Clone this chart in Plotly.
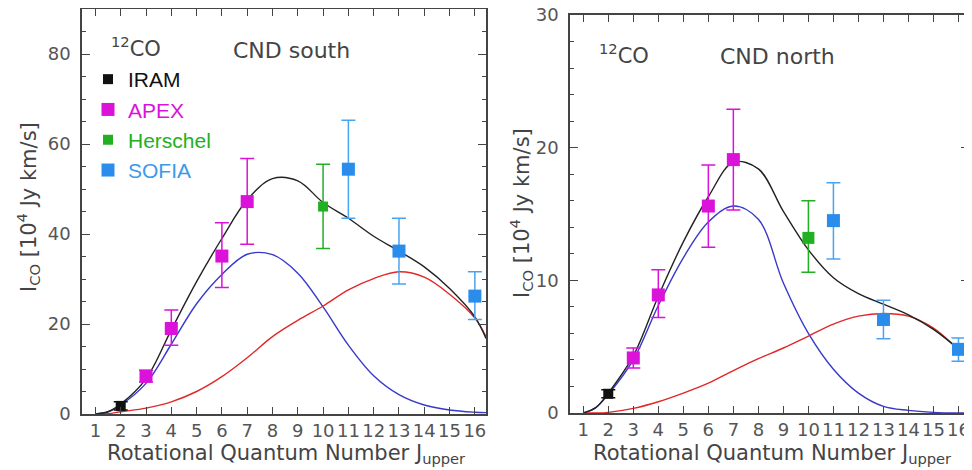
import plotly.graph_objects as go

# ---------------- data ----------------
# model curves
J_model = [1, 1.5, 2, 3, 4, 5, 6, 7, 8, 9, 10, 11, 12, 13, 14, 15, 16, 16.44]

south_blue = [0, 0.5, 2.0, 6.8, 15.5, 24.5, 31.0, 35.5, 35.4, 31.3, 23.8, 15.3, 8.5, 4.3, 2.0, 0.9, 0.4, 0.3]
south_red = [0, 0.05, 0.5, 1.3, 2.7, 5.0, 8.3, 12.5, 17.2, 20.8, 24.0, 27.6, 30.1, 31.6, 30.4, 26.6, 21.3, 17.2]
south_black = [0, 0.5, 2.2, 7.8, 18.7, 29.4, 39.0, 47.6, 52.3, 51.8, 47.0, 43.5, 39.5, 36.2, 32.7, 27.9, 21.6, 16.8]

north_blue = [0, 0.4, 1.4, 4.0, 8.1, 11.7, 14.4, 15.6, 14.6, 9.8, 6.0, 3.3, 1.5, 0.5, 0.2, 0.05, 0.0, 0.0]
north_red = [0, 0.0, 0.05, 0.35, 0.85, 1.5, 2.25, 3.2, 4.1, 4.9, 5.8, 6.7, 7.3, 7.5, 7.3, 6.4, 4.8, 4.1]
north_black = [0, 0.4, 1.5, 4.3, 8.8, 12.9, 16.3, 18.9, 18.4, 15.2, 12.3, 10.2, 9.0, 8.2, 7.4, 6.3, 4.8, 4.0]

# observations: CND south
s_iram_J = [2];  s_iram = [1.8];  s_iram_up = [0.9];  s_iram_dn = [0.9]
s_apex_J = [3, 4, 6, 7];  s_apex = [8.4, 19.0, 35.1, 47.2]
s_apex_up = [1.3, 4.1, 7.4, 9.6];  s_apex_dn = [1.3, 3.7, 7.0, 9.5]
s_hers_J = [10];  s_hers = [46.1];  s_hers_up = [9.4];  s_hers_dn = [9.3]
s_sofia_J = [11, 13, 16];  s_sofia = [54.4, 36.2, 26.2]
s_sofia_up = [10.9, 7.3, 5.4];  s_sofia_dn = [10.9, 7.3, 5.2]

# observations: CND north
n_iram_J = [2];  n_iram = [1.45];  n_iram_up = [0.3];  n_iram_dn = [0.3]
n_apex_J = [3, 4, 6, 7];  n_apex = [4.15, 8.9, 15.6, 19.1]
n_apex_up = [0.75, 1.9, 3.1, 3.8];  n_apex_dn = [0.75, 1.7, 3.1, 3.8]
n_hers_J = [10];  n_hers = [13.2];  n_hers_up = [2.8];  n_hers_dn = [2.6]
n_sofia_J = [11, 13, 16];  n_sofia = [14.5, 7.05, 4.8]
n_sofia_up = [2.85, 1.45, 0.85];  n_sofia_dn = [2.9, 1.45, 0.9]

x_ticks = list(range(1, 17))

# ---------------- style ----------------
C_IRAM = "#111111"
C_APEX = "#DA12DA"
C_HERS = "#22B022"
C_SOFIA = "#2A8CEB"
C_SOFIA_ERR = "#4AA3F0"
C_BLUE = "#3838CC"
C_RED = "#E02828"
C_BLACK = "#222222"
AXC = "#444444"
TXT = "#444444"
FONT = "DejaVu Sans"

# page has an 8px body margin: figure fills the rest of the 972x470 window
OFF = 8
W, H = 972 - OFF, 470 - OFF


def fx(X):
    return (X - OFF) / W


def fy(Y):
    return 1 - (Y - OFF) / H


fig = go.Figure()


def add_panel(xa, ya, blue, red, black, obs, legend):
    for yv, col in ((blue, C_BLUE), (red, C_RED), (black, C_BLACK)):
        fig.add_trace(go.Scatter(x=J_model, y=yv, mode="lines", xaxis=xa, yaxis=ya,
                                 line=dict(color=col, width=1.4, shape="spline", smoothing=1.0),
                                 showlegend=False, hoverinfo="skip"))
    for name, label, J, v, up, dn, col, ecol, size in obs:
        fig.add_trace(go.Scatter(
            x=J, y=v, mode="markers", xaxis=xa, yaxis=ya,
            name=label, showlegend=legend,
            marker=dict(symbol="square", size=size, color=col, line=dict(width=0)),
            error_y=dict(type="data", array=up, arrayminus=dn, symmetric=False,
                         color=ecol, thickness=1.5, width=7),
        ))


obs_s = [
    ("IRAM", "IRAM", s_iram_J, s_iram, s_iram_up, s_iram_dn, C_IRAM, C_IRAM, 10),
    ("APEX", f"<span style='color:{C_APEX}'>APEX</span>", s_apex_J, s_apex, s_apex_up, s_apex_dn, C_APEX, C_APEX, 13),
    ("Herschel", f"<span style='color:{C_HERS}'>Herschel</span>", s_hers_J, s_hers, s_hers_up, s_hers_dn, C_HERS, C_HERS, 10),
    ("SOFIA", f"<span style='color:#3A9AEA'>SOFIA</span>", s_sofia_J, s_sofia, s_sofia_up, s_sofia_dn, C_SOFIA, C_SOFIA_ERR, 13),
]
obs_n = [
    ("IRAM", "IRAM", n_iram_J, n_iram, n_iram_up, n_iram_dn, C_IRAM, C_IRAM, 10),
    ("APEX", "APEX", n_apex_J, n_apex, n_apex_up, n_apex_dn, C_APEX, C_APEX, 13),
    ("Herschel", "Herschel", n_hers_J, n_hers, n_hers_up, n_hers_dn, C_HERS, C_HERS, 12),
    ("SOFIA", "SOFIA", n_sofia_J, n_sofia, n_sofia_up, n_sofia_dn, C_SOFIA, C_SOFIA_ERR, 13),
]

add_panel("x", "y", south_blue, south_red, south_black, obs_s, True)
add_panel("x2", "y2", north_blue, north_red, north_black, obs_n, False)

xcommon = dict(tickvals=x_ticks, ticktext=[str(t) for t in x_ticks], automargin=False,
               showline=True, linecolor=AXC, linewidth=1.5, mirror="ticks",
               ticks="inside", ticklen=7, tickwidth=1.3, tickcolor=AXC,
               showgrid=False, zeroline=False, ticklabeloverflow="allow",
               tickfont=dict(family=FONT, size=18, color="#555555"))
ycommon = dict(showline=True, linecolor=AXC, linewidth=1.5, mirror="ticks", automargin=False,
               ticks="inside", ticklen=8, tickwidth=1.3, tickcolor=AXC,
               showgrid=False, zeroline=False, ticklabelstandoff=6, ticklabeloverflow="allow",
               tickfont=dict(family=FONT, size=18, color="#555555"))

fig.update_layout(
    template="none",
    width=W, height=H,
    margin=dict(l=0, r=0, t=0, b=0, autoexpand=False),
    paper_bgcolor="white", plot_bgcolor="white",
    xaxis=dict(domain=[fx(82), fx(486)], anchor="y", range=[0.47, 16.44], **xcommon),
    yaxis=dict(domain=[fy(414), fy(9)], anchor="x", range=[0, 90], dtick=20,
               minor=dict(dtick=5, ticks="inside", ticklen=4, tickcolor=AXC, tickwidth=1.2), **ycommon),
    xaxis2=dict(domain=[fx(570), fx(969)], anchor="y2", range=[0.47, 16.42], **xcommon),
    yaxis2=dict(domain=[fy(413), fy(15)], anchor="x2", range=[0, 30], dtick=10,
                minor=dict(dtick=2, ticks="inside", ticklen=4, tickcolor=AXC, tickwidth=1.2), **ycommon),
    showlegend=True,
    legend=dict(x=fx(88), y=fy(59), xanchor="left", yanchor="top",
                bgcolor="rgba(0,0,0,0)", borderwidth=0,
                font=dict(family="Liberation Sans, Arial", size=21, color="#111111"),
                tracegroupgap=0, itemsizing="trace"),
)


def ann(text, X, Y, size=21, angle=0, xanchor="center", color=TXT):
    fig.add_annotation(text=text, x=fx(X), y=fy(Y), xref="paper", yref="paper",
                       showarrow=False, textangle=angle, xanchor=xanchor, yanchor="middle",
                       font=dict(family=FONT, size=size, color=color))


# panel labels
ann("<sup>12</sup>CO", 109, 47, size=21, xanchor="left")
ann("CND south", 291, 50, size=22)
ann("<sup>12</sup>CO", 597, 54, size=21, xanchor="left")
ann("CND north", 777, 56, size=22)

# axis titles
xt = "Rotational Quantum Number J<sub>upper</sub>"
yt = "I<sub>CO</sub> [10<sup>4</sup> Jy km/s]"
ann(xt, 286, 454, size=21)
ann(xt, 772, 454, size=21)
ann(yt, 28, 207, size=21, angle=-90)
ann(yt, 521, 213, size=21, angle=-90)

fig.write_html("out.html")
